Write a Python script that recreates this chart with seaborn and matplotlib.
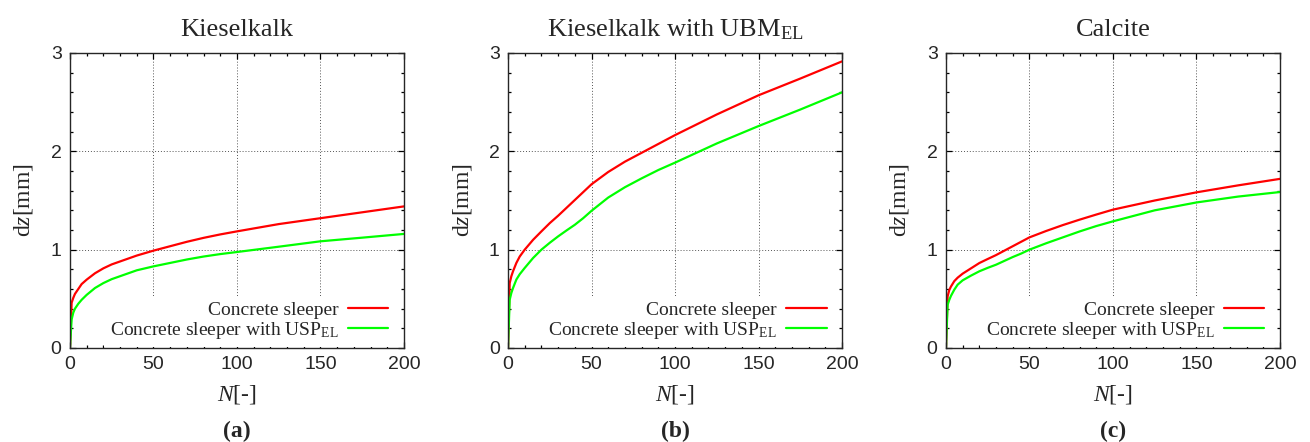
import numpy as np
import pandas as pd
import matplotlib
matplotlib.use("Agg")
import matplotlib.pyplot as plt
from matplotlib.ticker import MultipleLocator
import seaborn as sns

# cycles N, shared by all curves
N = [0, 1, 2, 3, 5, 7, 10, 15, 20, 25, 30, 35, 40, 45, 50,
     60, 70, 80, 90, 100, 125, 150, 175, 200]

# settlement dz [mm]
kiesel_plain = [0, 0.46, 0.51, 0.55, 0.60, 0.65, 0.695, 0.76, 0.81, 0.85, 0.88, 0.91, 0.94, 0.965, 0.99,
                1.035, 1.08, 1.12, 1.155, 1.186, 1.26, 1.32, 1.38, 1.44]
kiesel_usp = [0, 0.29, 0.36, 0.40, 0.45, 0.49, 0.54, 0.61, 0.66, 0.70, 0.73, 0.76, 0.79, 0.81, 0.83,
              0.865, 0.90, 0.93, 0.955, 0.976, 1.03, 1.085, 1.122, 1.16]
ubm_plain = [0, 0.66, 0.73, 0.78, 0.865, 0.93, 1.0, 1.10, 1.186, 1.27, 1.345, 1.425, 1.505, 1.585, 1.665,
             1.79, 1.895, 1.985, 2.075, 2.165, 2.375, 2.57, 2.74, 2.915]
ubm_usp = [0, 0.49, 0.56, 0.61, 0.696, 0.75, 0.814, 0.915, 1.0, 1.07, 1.135, 1.195, 1.253, 1.32, 1.395,
           1.53, 1.635, 1.725, 1.81, 1.885, 2.08, 2.257, 2.425, 2.60]
calcite_plain = [0, 0.525, 0.59, 0.625, 0.68, 0.715, 0.756, 0.81, 0.864, 0.905, 0.945, 0.99, 1.035, 1.08, 1.125,
                 1.19, 1.25, 1.305, 1.357, 1.407, 1.50, 1.583, 1.654, 1.72]
calcite_usp = [0, 0.44, 0.49, 0.53, 0.593, 0.644, 0.688, 0.736, 0.78, 0.815, 0.847, 0.886, 0.925, 0.96, 1.0,
               1.065, 1.125, 1.185, 1.24, 1.288, 1.40, 1.48, 1.54, 1.586]

titles = ["Kieselkalk", r"Kieselkalk with UBM$_{\mathrm{EL}}$", "Calcite"]
letters = ["(a)", "(b)", "(c)"]
series = ["Concrete sleeper", r"Concrete sleeper with USP$_{\mathrm{EL}}$"]
colors = ["#ff0000", "#00ff00"]
panels = [(kiesel_plain, kiesel_usp), (ubm_plain, ubm_usp), (calcite_plain, calcite_usp)]

sns.set_style("ticks")
plt.rcParams["font.family"] = ["Liberation Serif", "DejaVu Serif"]
plt.rcParams["mathtext.fontset"] = "custom"
plt.rcParams["mathtext.rm"] = "Liberation Serif"
plt.rcParams["mathtext.it"] = "Liberation Serif:italic"

fig = plt.figure(figsize=(13.1, 4.42), dpi=100)
lefts = [0.0534, 0.3878, 0.7221]

for i, (plain, usp) in enumerate(panels):
    ax = fig.add_axes([lefts[i], 0.2127, 0.255, 0.6674])
    df = pd.DataFrame({
        "N": N + N,
        "dz": plain + usp,
        "case": [series[0]] * len(N) + [series[1]] * len(N),
    })
    sns.lineplot(data=df, x="N", y="dz", hue="case", palette=colors,
                 estimator=None, sort=False, lw=1.6, ax=ax)

    ax.set_xlim(0, 200)
    ax.set_ylim(0, 3)
    ax.xaxis.set_major_locator(MultipleLocator(50))
    ax.xaxis.set_minor_locator(MultipleLocator(10))
    ax.yaxis.set_major_locator(MultipleLocator(1))
    ax.yaxis.set_minor_locator(MultipleLocator(0.2))
    ax.tick_params(which="both", direction="in", top=True, right=True,
                   width=0.9, color="black")
    ax.tick_params(which="major", length=4.5, pad=6, labelsize=14,
                   labelfontfamily="Liberation Sans")
    ax.tick_params(which="minor", length=2.5)
    ax.grid(True, which="major", ls=(0, (1, 2)), color="#555555", lw=0.7)
    for s in ax.spines.values():
        s.set_linewidth(1.0)

    ax.set_title(titles[i], fontsize=19, pad=12)
    ax.set_xlabel("$N$[-]", fontsize=17, labelpad=7)
    ax.set_ylabel("d$z$[mm]", fontsize=17, labelpad=11)

    leg = ax.legend(loc="lower right", bbox_to_anchor=(0.971, 0.003),
                    fontsize=14, markerfirst=False,
                    handlelength=2.1, handletextpad=0.45, labelspacing=0.05,
                    borderpad=0.3, borderaxespad=0.0, frameon=True,
                    fancybox=False, framealpha=1.0)
    leg.get_frame().set_edgecolor("none")
    leg.get_frame().set_facecolor("white")
    for col in leg._legend_handle_box.get_children():
        col.align = "right"

    fig.text(lefts[i] + 0.255 / 2, 0.023, letters[i], ha="center", va="center",
             fontsize=17, fontweight="bold")

fig.savefig("out.png", dpi=100)
